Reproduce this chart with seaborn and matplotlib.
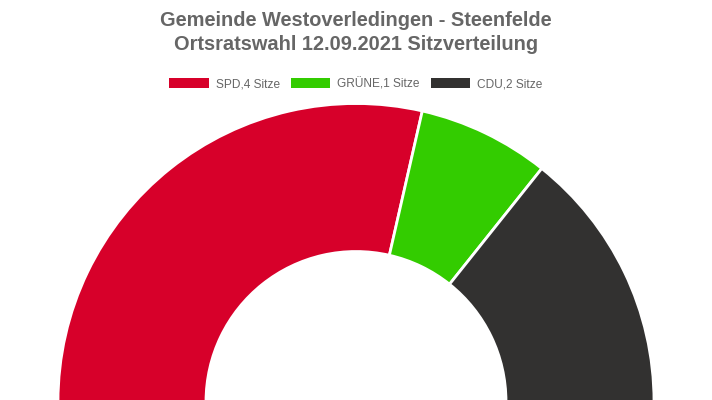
import matplotlib
matplotlib.use("Agg")
import matplotlib.pyplot as plt
import seaborn as sns
from matplotlib.patches import Patch

# --- Data ---
parties = ["SPD", "GRÜNE", "CDU"]
seats = [4, 1, 2]
colors = ["#d7002a", "#33cc00", "#323130"]
title_lines = ["Gemeinde Westoverledingen - Steenfelde", "Ortsratswahl 12.09.2021 Sitzverteilung"]

sns.set_theme(style="white")
plt.rcParams["font.family"] = ["Liberation Sans", "DejaVu Sans"]

fig = plt.figure(figsize=(7.12, 4.0), dpi=100)
ax = fig.add_axes([0, 0, 1, 1])

# half donut: add an invisible wedge equal to the total so the seats fill 180 degrees
values = seats + [sum(seats)]
wedge_colors = colors + ["none"]
wedges, _ = ax.pie(values, colors=wedge_colors, startangle=180, counterclock=False,
                   center=(356, -1.5), radius=298,
                   wedgeprops=dict(width=148, edgecolor="white", linewidth=2))
wedges[-1].set_edgecolor("none")
ax.set_xlim(0, 712)
ax.set_ylim(0, 400)
ax.set_aspect("equal")
ax.axis("off")

fig.text(0.5, 1 - 20 / 400, title_lines[0], ha="center", va="center",
         fontsize=14.4, fontweight="bold", color="#666666")
fig.text(0.5, 1 - 45 / 400, title_lines[1], ha="center", va="center",
         fontsize=14.4, fontweight="bold", color="#666666")

handles = [Patch(facecolor=c, edgecolor="none") for c in colors]
labels = [f"{p},{s} Sitze" for p, s in zip(parties, seats)]
fig.legend(handles, labels, loc="center", bbox_to_anchor=(0.5, 1 - 84 / 400), ncol=3,
           frameon=False, fontsize=8.6, labelcolor="#666666", handlelength=3.3,
           handleheight=0.85, handletextpad=0.6, columnspacing=0.9)

fig.savefig("out.png", dpi=100)
